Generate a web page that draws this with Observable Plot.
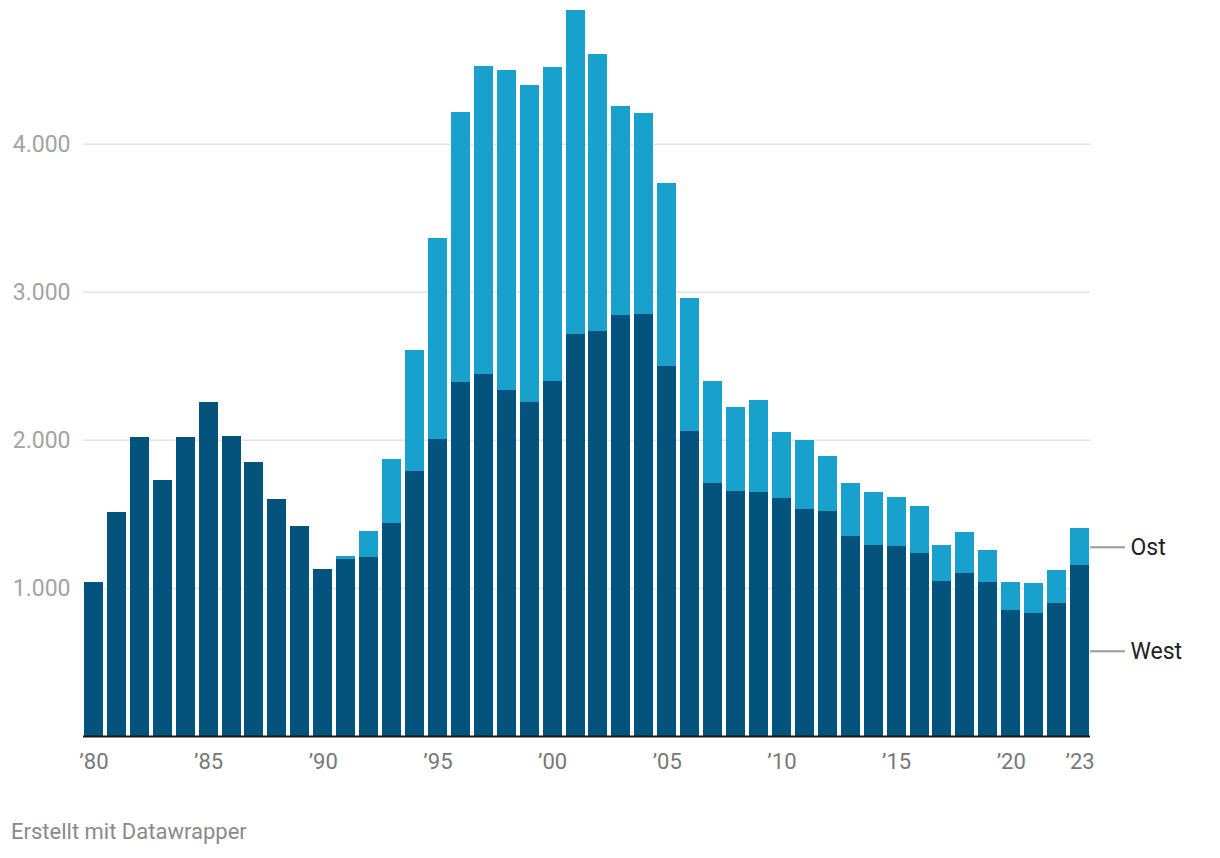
<!DOCTYPE html>
<html>
<head>
<meta charset="utf-8">
<script src="https://cdn.jsdelivr.net/npm/d3@7"></script>
<script src="https://cdn.jsdelivr.net/npm/@observablehq/plot@0.6"></script>
<style>
  html, body { margin: 0; padding: 0; background: #fff; }
  body { width: 1220px; height: 858px; position: relative; font-family: Roboto, "Noto Sans", sans-serif; }
  #chart { position: absolute; left: 0; top: 0; }
  #footer { position: absolute; left: 11px; top: 819px; font-size: 22px; line-height: 26px; color: #8a8a8a; font-family: Roboto, sans-serif; }
</style>
</head>
<body>
<div id="chart"></div>
<div id="footer">Erstellt mit Datawrapper</div>
<script>
const years = d3.range(1980, 2024);
const west = [1038,1511,2018,1728,2018,2255,2025,1849,1599,1417,1126,1194,1207,1437,1788,2005,2390,2444,2336,2255,2397,2714,2735,2843,2849,2498,2059,1708,1653,1647,1606,1532,1518,1349,1289,1282,1235,1045,1099,1039,849,829,897,1153];
const ost  = [0,0,0,0,0,0,0,0,0,0,0,20,176,433,818,1358,1823,2081,2162,2141,2121,2189,1871,1412,1358,1236,898,689,568,621,446,466,372,359,358,331,317,244,277,216,190,203,223,250];
const seriesNames = ["West", "Ost"];
const seriesColors = ["#03537c", "#19a1cd"];
const xTicks = [1980,1985,1990,1995,2000,2005,2010,2015,2020,2023];
const yTicks = [1000,2000,3000,4000];

const rows = [];
years.forEach((y, i) => rows.push({year: y, series: "West", value: west[i]}));
years.forEach((y, i) => rows.push({year: y, series: "Ost", value: ost[i]}));

const last = years.length - 1;
const labels = [
  {name: "Ost", y: west[last] + ost[last] / 2},
  {name: "West", y: west[last] / 2}
];
const maxTotal = d3.max(years, (y, i) => west[i] + ost[i]);

const chart = Plot.plot({
  width: 1220,
  height: 800,
  marginLeft: 83,
  marginRight: 130,
  marginTop: 10,
  marginBottom: 64,
  style: {fontFamily: "Roboto, sans-serif", background: "#fff"},
  x: {type: "band", domain: years, paddingInner: 0.17, paddingOuter: 0.04},
  y: {domain: [0, maxTotal], nice: false},
  color: {domain: seriesNames, range: seriesColors},
  marks: [
    Plot.ruleY(yTicks, {stroke: "#e4e4e4", strokeWidth: 1.5}),
    Plot.barY(rows, {x: "year", y: "value", fill: "series", order: seriesNames, shapeRendering: "crispEdges"}),
    Plot.ruleY([0], {stroke: "#1a1a1a", strokeWidth: 2}),
    Plot.axisY({ticks: yTicks, tickSize: 0, tickPadding: 13, fontSize: 23, color: "#a3a3a3",
      tickFormat: d => d3.format(",")(d).replace(/,/g, "."), label: null}),
    Plot.axisX({ticks: xTicks, tickSize: 0, tickPadding: 17, fontSize: 22, color: "#777",
      tickFormat: d => "\u2019" + String(d).slice(2), label: null}),
    Plot.ruleY(labels, {y: "y", stroke: "#999", strokeWidth: 2,
      render(index, scales, values, dimensions, context, next) {
        const g = next(index, scales, values, dimensions, context);
        const x0 = dimensions.width - dimensions.marginRight;
        d3.select(g).selectAll("line").attr("x1", x0).attr("x2", x0 + 35);
        return g;
      }}),
    Plot.text(labels, {y: "y", text: "name", frameAnchor: "right", dx: 40, textAnchor: "start",
      fontSize: 23, fill: "#222"})
  ]
});
document.getElementById("chart").appendChild(chart);
</script>
</body>
</html>
